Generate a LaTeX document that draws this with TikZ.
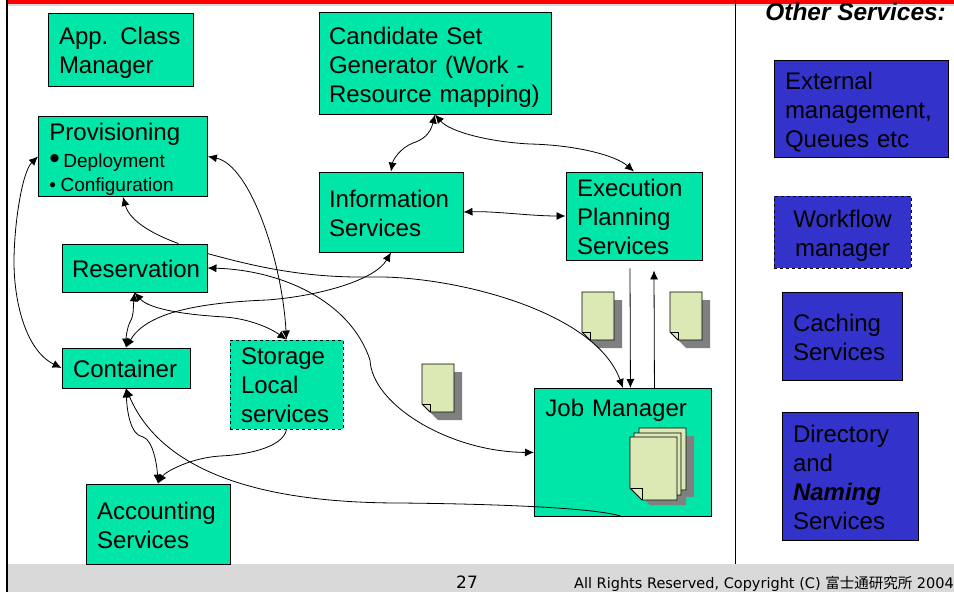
\documentclass[tikz,border=0pt]{standalone}
\usepackage{fontspec}
\setmainfont{Liberation Sans}
\newfontfamily\footfont{DejaVu Sans}
\newfontfamily\cjkfont{Noto Sans CJK JP}
\usetikzlibrary{arrows.meta,calc}
\definecolor{boxgreen}{RGB}{0,230,168}
\definecolor{boxblue}{RGB}{51,51,204}
\definecolor{pagecol}{RGB}{219,233,180}
\definecolor{shadowcol}{RGB}{128,128,128}
\definecolor{footgray}{RGB}{217,217,217}
\newcommand{\dn}[1]{\rule{0pt}{\dimexpr 17.5pt+#1\relax}}
\tikzset{
  x=1pt,y=-1pt,
  box/.style={draw=black,line width=0.9pt,align=left,inner xsep=11pt,inner ysep=0pt,font=\fontsize{24}{29}\selectfont},
  gbox/.style={box,fill=boxgreen},
  bbox/.style={box,fill=boxblue},
  link/.style={line width=0.8pt,-{Latex[length=9pt,width=8pt]}},
  twoway/.style={line width=0.8pt,{Latex[length=9pt,width=8pt]}-{Latex[length=9pt,width=8pt]}},
  pagesty/.style={draw=black,line width=0.9pt,fill=pagecol,line join=miter},
  pageshadow/.style={fill=shadowcol,draw=none}
}
% top-left x, top-left y, width, height, fold
\newcommand{\docpage}[5]{%
  \fill[pageshadow] ($(#1,#2)+(8,8)$) -- ++(#3,0) -- ++(0,#4) -- ++(-#3+#5,0) -- ++(-#5,-#5) -- cycle;
  \draw[pagesty] (#1,#2) -- ++(#3,0) -- ++(0,#4) -- ++(-#3+#5,0) -- ++(-#5,-#5) -- cycle;
  \draw[line width=0.7pt] ($(#1,#2)+(0,#4-#5)$) -- ++(#5,0) -- ++(0,#5);
}
\begin{document}
\begin{tikzpicture}
\useasboundingbox (0,0) rectangle (954,592);
\fill[white] (0,0) rectangle (954,592);
% frame
\fill[footgray] (8,564) rectangle (954,592);
\fill[footgray] (8,4) rectangle (954,5.5);
\fill[red] (8,0) rectangle (954,4);
\draw[line width=2pt] (7,0) -- (7,592);
\draw[line width=0.7pt] (735,0) -- (735,564);
\node[anchor=base east,inner sep=0pt,font=\fontsize{24.4}{28}\selectfont\bfseries\itshape] (othertitle) at (946,20) {Other Services:};
% footer
\node[anchor=base,font=\footfont\fontsize{17}{22}\selectfont] (pagenum) at (467,588) {27};
\node[anchor=base east,inner sep=0pt,font=\footfont\fontsize{14.5}{18}\selectfont] (copyright) at (954,588) {All Rights Reserved, Copyright (C) {\cjkfont 富士通研究所} 2004};
% green boxes
\node[gbox,minimum width=145pt,minimum height=73pt,text width=123pt] (app) at (120.5,49.5) {\dn{6pt}App. Class\\Manager};
\node[gbox,inner xsep=10pt,minimum width=232pt,minimum height=102pt,text width=212pt] (cand) at (435,63) {\dn{8pt}Candidate Set\\Generator (Work -\\Resource mapping)};
\node[gbox,minimum width=169pt,minimum height=80pt,text width=147pt,anchor=north west] (prov) at (38,116) {\dn{6pt}Provisioning\\[-2pt]\smash{\fontsize{30}{30}\selectfont\raisebox{-1pt}{\textbullet}}\hspace*{3.5pt}{\fontsize{19}{24}\selectfont Deployment}\\[-5pt]{\fontsize{19}{22}\selectfont\textbullet\hspace*{4.5pt}Configuration}};
\node[gbox,inner xsep=10pt,minimum width=145pt,minimum height=48pt,text width=125pt] (res) at (134.5,268) {\dn{2pt}Reservation};
\node[gbox,minimum width=128pt,minimum height=40pt,text width=106pt] (cont) at (126,368) {\dn{2pt}Container};
\node[gbox,dashed,minimum width=113pt,minimum height=89pt,text width=91pt] (stor) at (286.5,384.5) {\dn{0pt}Storage\\Local\\services};
\node[gbox,minimum width=144pt,minimum height=80pt,text width=122pt] (acct) at (158,524) {\dn{2pt}Accounting\\Services};
\node[gbox,inner xsep=10pt,minimum width=144pt,minimum height=80pt,text width=124pt] (info) at (391,212) {\dn{2pt}Information\\Services};
\node[gbox,minimum width=136pt,minimum height=88pt,text width=114pt] (exec) at (634,216) {\dn{2pt}Execution\\Planning\\Services};
\node[gbox,minimum width=177pt,minimum height=128pt,text width=155pt,anchor=north west] (job) at (534,388) {\rule{0pt}{14pt}Job Manager\\[60pt]\mbox{}};
% blue boxes
\node[bbox,minimum width=174pt,minimum height=97pt,text width=152pt] (ext) at (861,108.5) {\dn{8pt}External\\management,\\Queues etc};
\node[bbox,dashed,minimum width=137pt,minimum height=72pt,text width=137pt,align=center,inner xsep=0pt] (wf) at (842.5,232) {\dn{8pt}Workflow\\manager};
\node[bbox,minimum width=120pt,minimum height=88pt,text width=98pt] (cach) at (842,336) {\dn{2pt}Caching\\Services};
\node[bbox,minimum width=136pt,minimum height=128pt,text width=114pt] (dir) at (850,476) {\dn{2pt}Directory\\and\\\textbf{\textit{Naming}}\\Services};
% document pages
\docpage{582}{292}{32}{48}{8}
\docpage{670}{292}{32}{48}{8}
\docpage{422}{364}{32}{48}{8}
% page stack in job manager
\fill[pageshadow] (639,436) -- (694,436) -- (694,497) -- (686,497) -- (686,505) -- (650,505) -- (639,494) -- cycle;
\draw[pagesty] (639,428) -- (686,428) -- (686,490) -- (650,490) -- (639,480) -- cycle;
\draw[pagesty] (634,433) -- (681,433) -- (681,495) -- (645,495) -- (634,485) -- cycle;
\draw[pagesty] (630,437) -- (677,437) -- (677,500) -- (642,500) -- (630,488) -- cycle;
\draw[line width=0.7pt] (630,488) -- (642,488) -- (642,500);
% connectors
\draw[twoway] (prov.west) .. controls (22,172) and (14,225) .. (14,262) .. controls (14,300) and (25,350) .. (cont.west);
\draw[twoway] (prov.east) .. controls (250,165) and (282,260) .. (stor.north);
\draw[link] ($(res.north)+(44,0)$) .. controls (155,235) and (130,222) .. (prov.south);
\draw[link] ($(res.north east)+(0,10)$) .. controls (250,265) and (300,278) .. (370,277) .. controls (450,275) and (595,310) .. (job.north);
\draw[twoway] (res.east) .. controls (280,270) and (350,300) .. (370,360) .. controls (372,405) and (450,452) .. (job.west);
\draw[twoway] (res.south) .. controls (133,310) and (134,315) .. (130,322) .. controls (127,328) and (126,338) .. (cont.north);
\draw[twoway] (res.south) .. controls (150,310) and (190,315) .. (225,317) .. controls (250,319) and (270,328) .. (stor.north);
\draw[twoway] (info.south) .. controls (375,280) and (320,296) .. (267,300) .. controls (190,303) and (145,315) .. (cont.north);
\draw[twoway] (cand.south) .. controls (430,135) and (422,140) .. (413,143) .. controls (400,148) and (393,160) .. (info.north);
\draw[twoway] (cand.south) .. controls (450,132) and (490,142) .. (530,144) .. controls (575,145) and (615,155) .. (exec.north);
\draw[twoway] (info.east) .. controls (495,211) and (530,216) .. (exec.west);
\draw[link] ($(exec.south)+(-4,8)$) -- ($(job.north)+(7.5,0)$);
\draw[link] ($(job.north)+(31.5,0)$) -- ($(exec.south)+(20,10)$);
\draw[twoway] (cont.south) .. controls (127,410) and (130,435) .. (143,437) .. controls (153,440) and (157,465) .. (acct.north);
\draw[link] (stor.south) .. controls (283,448) and (245,455) .. (220,456) .. controls (190,458) and (165,472) .. (acct.north);
\draw[link] (job.south) .. controls (600,508) and (500,504) .. (400,503) .. controls (280,503) and (165,480) .. (cont.south);
\end{tikzpicture}
\end{document}
